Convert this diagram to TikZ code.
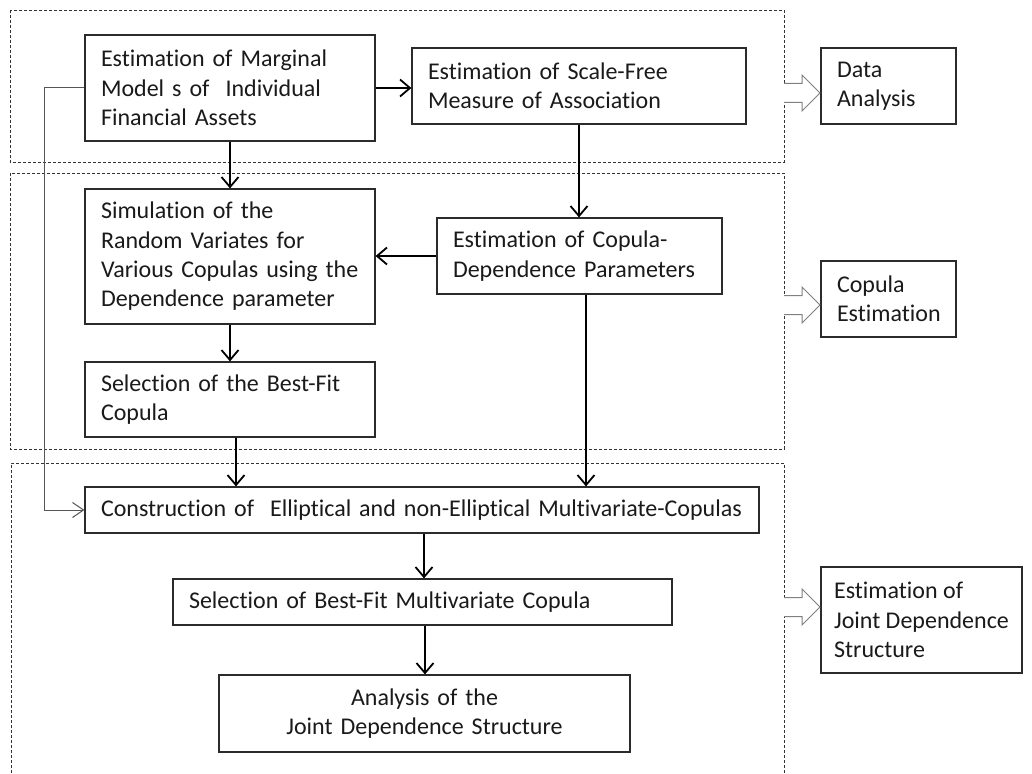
\documentclass[tikz,border=0pt]{standalone}
\usepackage{fontspec}
\setmainfont{Carlito}[Ligatures={NoCommon}]
\usetikzlibrary{arrows.meta}
\definecolor{boxc}{HTML}{2B2B2B}
\definecolor{txtc}{HTML}{1A1A1A}
\definecolor{fbc}{HTML}{555555}
\definecolor{blkc}{HTML}{808080}
\hyphenpenalty=10000
\exhyphenpenalty=10000
\begin{document}
\begin{tikzpicture}[x=1pt,y=-1pt,
  box/.style={draw=boxc, line width=1.2pt, inner xsep=16pt, inner ysep=0pt, align=left,
    font=\fontsize{24}{29.3}\selectfont, text=txtc},
  cbox/.style={box, align=center},
  arr/.style={draw=black, line width=1.8pt, -{Straight Barb[length=10pt,width=17pt,line width=1.8pt]}},
  fb/.style={draw=fbc, line width=1pt, -{Straight Barb[length=11pt,width=15pt,line width=1pt]}},
  dashbox/.style={draw=black!80, line width=0.8pt, dash pattern=on 3pt off 2pt},
  blk/.style={draw=blkc, line width=1pt, fill=white, line join=miter}]
\useasboundingbox (0,0) rectangle (1032,773);
\fill[white] (0,0) rectangle (1032,773);

% dashed regions
\draw[dashbox] (10,10) rectangle (784,162);
\draw[dashbox] (10,173) rectangle (784,449);
\draw[dashbox] (11,773) -- (11,463) -- (784,463) -- (784,773);

% boxes
\node[box, text width=258pt, minimum height=106pt] (b1) at (230,88)
  {Estimation of Marginal\\Model s of\ \ Individual\\Financial Assets};
\node[box, text width=302pt, minimum height=76pt] (b2) at (579,86)
  {Estimation of Scale-Free\\Measure of Association};
\node[box, text width=103pt, minimum height=76pt] (da) at (888.5,86)
  {Data\\Analysis};
\node[box, text width=258pt, minimum height=135pt] (b3) at (230,256.5)
  {Simulation of the\\Random Variates for\\Various Copulas using the\\Dependence parameter};
\node[box, text width=253pt, minimum height=76pt] (b4) at (579.5,256)
  {Estimation of Copula-\\Dependence Parameters};
\node[box, text width=258pt, minimum height=75pt] (b5) at (230,399.5)
  {Selection of the Best-Fit\\Copula};
\node[box, text width=103pt, minimum height=76pt] (ce) at (888.5,299)
  {Copula\\Estimation};
\node[box, text width=642pt, minimum height=46pt] (b6) at (422,510)
  {Construction of\ \ Elliptical and non-Elliptical Multivariate-Copulas};
\node[box, text width=467pt, minimum height=46pt] (b7) at (422.5,602)
  {Selection of Best-Fit Multivariate Copula};
\node[cbox, text width=379pt, minimum height=77pt] (b8) at (424.5,713.5)
  {Analysis of the\\Joint Dependence Structure};
\node[box, inner xsep=0pt, minimum width=201pt, minimum height=106pt] (jd) at (921.5,620)
  {Estimation of\\Joint Dependence\\Structure};

% connectors
\draw[arr] (b1.east) -- (b1.east -| b2.west);
\draw[arr] (b1.south) -- (b3.north);
\draw[arr] (b2.south) -- (b2.south |- b4.north);
\draw[arr] (b4.west) -- (b4.west -| b3.east);
\draw[arr] (b3.south) -- (b5.north);
\draw[arr] ([xshift=6pt]b5.south) -- ([xshift=6pt]b5.south |- b6.north);
\draw[arr] ([xshift=6.5pt]b4.south) -- ([xshift=6.5pt]b4.south |- b6.north);
\draw[arr] ([xshift=2pt]b6.south) -- ([xshift=2pt]b6.south |- b7.north);
\draw[arr] ([xshift=2.5pt]b7.south) -- ([xshift=2.5pt]b7.south |- b8.north);
\draw[fb] (b1.west) -- ++(-40,0) |- (b6.west);

% block arrows
\foreach \yy in {93,305,607}{
  \draw[blk] (784,\yy-9.5) -- (802,\yy-9.5) -- (802,\yy-18) -- (820,\yy)
    -- (802,\yy+18) -- (802,\yy+9.5) -- (784,\yy+9.5);
}
\end{tikzpicture}
\end{document}
